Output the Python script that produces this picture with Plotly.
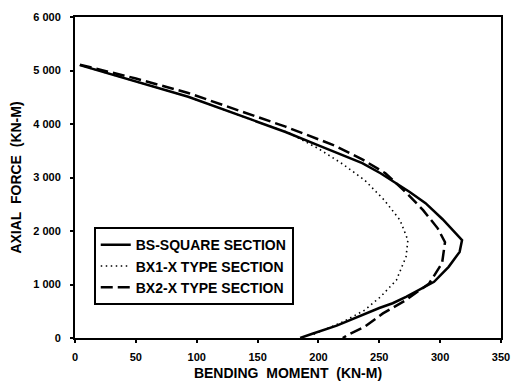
import plotly.graph_objects as go

# BS-SQUARE SECTION (solid)
bs_m = [4, 50, 93, 144, 173, 200, 220, 236, 251, 262, 275, 288, 302, 318, 316, 307, 295, 272, 261, 250, 238, 215, 195, 185]
bs_p = [5100, 4800, 4510, 4090, 3850, 3600, 3420, 3270, 3080, 2920, 2730, 2520, 2220, 1830, 1610, 1330, 1050, 770, 650, 560, 450, 230, 80, 0]

# BX1-X TYPE SECTION (dotted)
bx1_m = [4, 50, 93, 144, 176, 200, 220, 238, 254, 267, 273.5, 272, 264, 251, 238, 220, 200, 195]
bx1_p = [5100, 4800, 4510, 4090, 3830, 3540, 3250, 2950, 2580, 2205, 1830, 1520, 1080, 770, 520, 300, 110, 60]

# BX2-X TYPE SECTION (dashed)
bx2_m = [4, 50, 93, 144, 173, 213, 236, 255, 272, 286, 298, 304, 301.6, 291, 272, 253, 238, 224, 220]
bx2_p = [5110, 4850, 4580, 4170, 3950, 3600, 3340, 3080, 2720, 2390, 2050, 1790, 1400, 1020, 710, 460, 210, 56, 0]

x_ticks = [0, 50, 100, 150, 200, 250, 300, 350]
x_ticktext = ["0", "50", "100", "150", "200", "250", "300", "350"]
y_ticks = [0, 1000, 2000, 3000, 4000, 5000, 6000]
y_ticktext = ["0", "1 000", "2 000", "3 000", "4 000", "5 000", "6 000"]

FONT = "Liberation Sans, Arial, sans-serif"

fig = go.Figure()
fig.add_trace(go.Scatter(x=bs_m, y=bs_p, mode="lines", name="BS-SQUARE SECTION",
                         line=dict(color="black", width=2.5)))
fig.add_trace(go.Scatter(x=bx1_m, y=bx1_p, mode="lines", name="BX1-X TYPE SECTION",
                         line=dict(color="black", width=1.6, dash="1.5px,3.5px")))
fig.add_trace(go.Scatter(x=bx2_m, y=bx2_p, mode="lines", name="BX2-X TYPE SECTION",
                         line=dict(color="black", width=2.5, dash="12px,5px")))

fig.update_layout(
    width=520, height=392,
    margin=dict(l=75, r=10, t=17, b=54),
    paper_bgcolor="white", plot_bgcolor="white",
    font=dict(family=FONT, color="black"),
    showlegend=True,
    legend=dict(
        x=0.044, y=0.345, xanchor="left", yanchor="top",
        bordercolor="black", borderwidth=2, bgcolor="white",
        font=dict(family=FONT, size=14, color="black", weight="bold"),
        tracegroupgap=0, itemwidth=30,
        entrywidth=175, entrywidthmode="pixels",
    ),
)
fig.update_xaxes(
    range=[0, 350], tickvals=x_ticks, ticktext=x_ticktext,
    showline=True, linecolor="black", linewidth=2, mirror=True,
    ticks="outside", ticklen=3, tickwidth=1.5, tickcolor="black",
    showgrid=False, zeroline=False, ticklabelstandoff=5,
    tickfont=dict(family=FONT, size=11, weight="bold"),
    title=dict(text="BENDING  MOMENT  (KN-M)", font=dict(family=FONT, size=14, weight="bold"), standoff=6),
)
fig.update_yaxes(
    range=[0, 6000], tickvals=y_ticks, ticktext=y_ticktext,
    showline=True, linecolor="black", linewidth=2, mirror=True,
    ticks="outside", ticklen=3, tickwidth=1.5, tickcolor="black",
    showgrid=False, zeroline=False, ticklabelstandoff=7,
    tickfont=dict(family=FONT, size=11, weight="bold"),
    title=dict(text="AXIAL  FORCE  (KN-M)", font=dict(family=FONT, size=14, weight="bold"), standoff=8),
)

fig.write_html("out.html")
